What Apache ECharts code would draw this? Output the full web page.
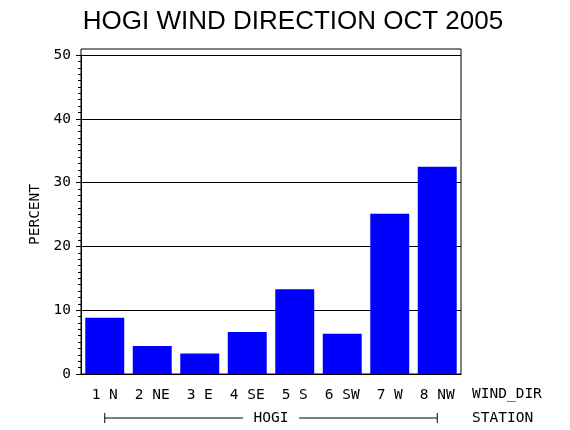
<!DOCTYPE html>
<html>
<head>
<meta charset="utf-8">
<style>
  html, body { margin: 0; padding: 0; background: #fff; }
  #chart { width: 570px; height: 430px; }
</style>
</head>
<body>
<div id="chart"></div>
<script src="https://cdn.jsdelivr.net/npm/echarts@6/dist/echarts.min.js"></script>
<script type="text/javascript">
// data
var categories = ['1 N', '2 NE', '3 E', '4 SE', '5 S', '6 SW', '7 W', '8 NW'];
var percent = [8.8, 4.4, 3.2, 6.6, 13.3, 6.3, 25.1, 32.5];
var station = 'HOGI';
var titleText = 'HOGI WIND DIRECTION OCT 2005';

var monoFamily = '"DejaVu Sans Mono", monospace';
var monoSize = 14.5;
var labelFont = monoSize + 'px ' + monoFamily;

var myChart = echarts.init(document.getElementById('chart'), null, { renderer: 'canvas' });

option = {
  backgroundColor: '#fff',
  animation: false,
  title: {
    text: titleText,
    left: 288,
    top: 4,
    textAlign: 'center',
    textStyle: {
      fontFamily: '"Liberation Sans", Arial, sans-serif',
      fontSize: 26,
      fontWeight: 'normal',
      color: '#000'
    }
  },
  grid: [
    // outer frame (reaches a little above 50)
    { left: 81, right: 109, top: 49, bottom: 56, show: true, borderColor: '#000', borderWidth: 1, backgroundColor: 'transparent' },
    // the plot itself
    { left: 81, right: 109, top: 55, bottom: 56 }
  ],
  xAxis: [
    { gridIndex: 0, type: 'value', show: false },
    {
      gridIndex: 1,
      type: 'category',
      data: categories,
      axisLine: { lineStyle: { color: '#000', width: 1 } },
      axisTick: { show: false },
      axisLabel: { color: '#000', fontFamily: monoFamily, fontSize: monoSize, margin: 14 }
    }
  ],
  yAxis: [
    { gridIndex: 0, type: 'value', show: false },
    {
      gridIndex: 1,
      type: 'value',
      min: 0,
      max: 50,
      interval: 10,
      name: 'PERCENT',
      nameLocation: 'middle',
      nameGap: 35,
      nameTextStyle: { color: '#000', fontFamily: monoFamily, fontSize: monoSize },
      axisLine: { show: true, lineStyle: { color: '#000', width: 1 } },
      axisTick: { show: true, length: 5, lineStyle: { color: '#000' } },
      minorTick: { show: true, splitNumber: 10, length: 3, lineStyle: { color: '#000' } },
      axisLabel: { color: '#000', fontFamily: monoFamily, fontSize: monoSize, margin: 10 },
      splitLine: { show: true, lineStyle: { color: '#000', width: 1 } }
    }
  ],
  graphic: [
    { type: 'text', left: 472, top: 387, style: { text: 'WIND_DIR', font: labelFont, fill: '#000' } },
    { type: 'text', left: 472, top: 411, style: { text: 'STATION', font: labelFont, fill: '#000' } }
  ],
  series: [
    {
      type: 'bar',
      xAxisIndex: 1,
      yAxisIndex: 1,
      data: percent,
      barCategoryGap: '18%',
      itemStyle: { color: '#0000ff' },
      z: 3
    },
    {
      // station bracket under the category labels
      type: 'custom',
      xAxisIndex: 1,
      yAxisIndex: 1,
      clip: false,
      silent: true,
      data: [[0, categories.length - 1]],
      encode: { x: [0, 1] },
      renderItem: function (params, api) {
        var a = api.coord([api.value(0), 0]);
        var b = api.coord([api.value(1), 0]);
        var y = a[1] + 44;
        var mid = (a[0] + b[0]) / 2;
        var half = 28;
        var ls = { stroke: '#000', lineWidth: 1 };
        return {
          type: 'group',
          children: [
            { type: 'line', shape: { x1: a[0], y1: y, x2: mid - half, y2: y }, style: ls },
            { type: 'line', shape: { x1: mid + half, y1: y, x2: b[0], y2: y }, style: ls },
            { type: 'line', shape: { x1: a[0], y1: y - 5, x2: a[0], y2: y + 5 }, style: ls },
            { type: 'line', shape: { x1: b[0], y1: y - 5, x2: b[0], y2: y + 5 }, style: ls },
            { type: 'text', style: { text: station, x: mid, y: y, align: 'center', verticalAlign: 'middle', font: labelFont, fill: '#000' } }
          ]
        };
      }
    }
  ]
};
myChart.setOption(option);
</script>
</body>
</html>
